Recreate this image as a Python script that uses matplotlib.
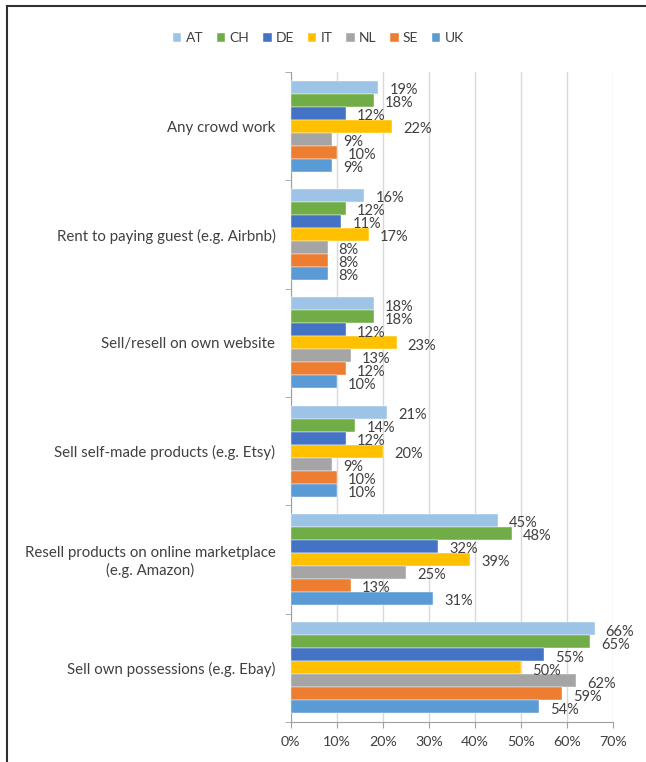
import matplotlib.pyplot as plt
import numpy as np
from matplotlib.lines import Line2D
from matplotlib.ticker import FuncFormatter

plt.rcParams['font.family'] = ['Lato', 'DejaVu Sans']

categories = ['Any crowd work',
              'Rent to paying guest (e.g. Airbnb)',
              'Sell/resell on own website',
              'Sell self-made products (e.g. Etsy)',
              'Resell products on online marketplace\n(e.g. Amazon)',
              'Sell own possessions (e.g. Ebay)']
countries = ['AT', 'CH', 'DE', 'IT', 'NL', 'SE', 'UK']
AT = [19, 16, 18, 21, 45, 66]
CH = [18, 12, 18, 14, 48, 65]
DE = [12, 11, 12, 12, 32, 55]
IT = [22, 17, 23, 20, 39, 50]
NL = [9, 8, 13, 9, 25, 62]
SE = [10, 8, 12, 10, 13, 59]
UK = [9, 8, 10, 10, 31, 54]
series = [AT, CH, DE, IT, NL, SE, UK]
colors = ['#9DC3E6', '#70AD47', '#4472C4', '#FFC000', '#A5A5A5', '#ED7D31', '#5B9BD5']

fig = plt.figure(figsize=(6.46, 7.62), dpi=100)
ax = fig.add_axes([0.450, 0.0525, 0.499, 0.853])

n = len(countries)
h = 0.12
y = np.arange(len(categories))
for i, (vals, c, name) in enumerate(zip(series, colors, countries)):
    pos = y - (n - 1) / 2 * h + i * h
    ax.barh(pos, vals, height=h, color=c, edgecolor='white', linewidth=0.3, label=name, zorder=3)
    for p, v in zip(pos, vals):
        ax.annotate('%d%%' % v, (v, p), xytext=(8, -2), textcoords='offset points',
                    va='center', ha='left', fontsize=10.5, color='#404040', zorder=4)

ax.set_ylim(len(categories) - 0.5, -0.5)
ax.set_xlim(0, 70)
ax.set_xticks(range(0, 71, 10))
ax.xaxis.set_major_formatter(FuncFormatter(lambda v, p: '%d%%' % v))
ax.set_yticks(y)
ax.set_yticklabels(categories, fontsize=10.8, color='#404040', multialignment='center')
ax.set_yticks(np.arange(-0.5, len(categories), 1), minor=True)
ax.tick_params(axis='y', which='major', length=0, pad=11)
ax.tick_params(axis='y', which='minor', length=4, color='#A0A0A0')
ax.tick_params(axis='x', length=4, color='#A0A0A0', labelsize=10.3, labelcolor='#404040', pad=6)
ax.grid(axis='x', color='#D9D9D9', linewidth=1, zorder=0)
for s in ['top', 'right']:
    ax.spines[s].set_visible(False)
for s in ['left', 'bottom']:
    ax.spines[s].set_color('#A0A0A0')

fig.legend(loc='center', bbox_to_anchor=(0.493, 0.950), ncol=7, frameon=False,
           fontsize=10, handlelength=0.6, handleheight=0.6, handletextpad=0.3,
           columnspacing=1.0, labelcolor='#404040')

fig.add_artist(Line2D([7 / 646, 7 / 646], [0, 1 - 6 / 762], color='#303030', linewidth=1.5))
fig.add_artist(Line2D([7 / 646, 1], [1 - 6 / 762, 1 - 6 / 762], color='#303030', linewidth=1.5))

fig.savefig('out.png', dpi=100)
